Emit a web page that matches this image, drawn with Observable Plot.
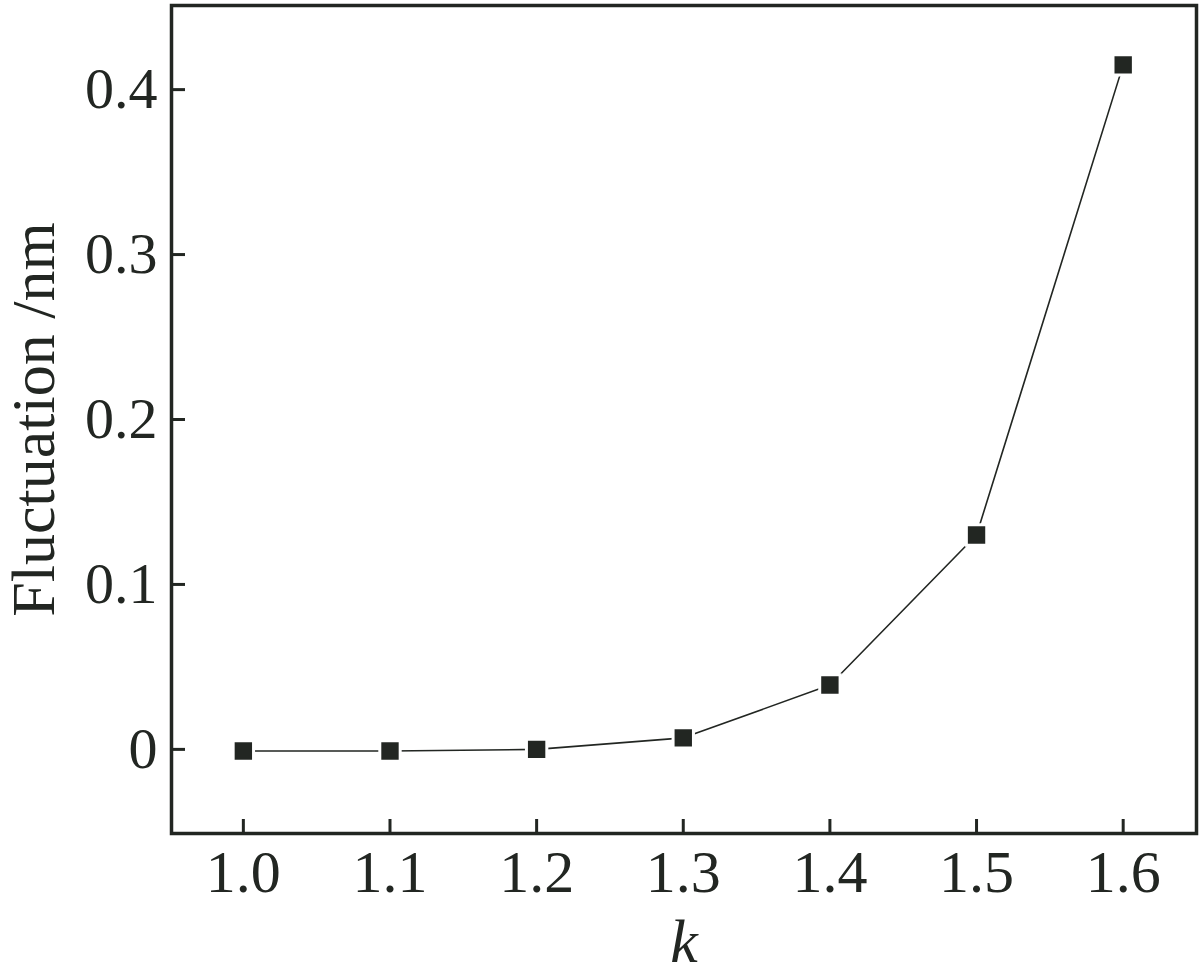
<!DOCTYPE html>
<html>
<head>
<meta charset="utf-8">
<script src="https://cdn.jsdelivr.net/npm/d3@7"></script>
<script src="https://cdn.jsdelivr.net/npm/@observablehq/plot@0.6"></script>
<style>
  html, body { margin: 0; padding: 0; background: #fff; }
  g[aria-label="x-axis label"] text { font-style: italic; }
</style>
</head>
<body>
<div id="chart"></div>
<script>
const kValues = [1.0, 1.1, 1.2, 1.3, 1.4, 1.5, 1.6];
const fluctuation = [-0.001, -0.001, 0.0, 0.007, 0.039, 0.130, 0.415];
const xTicks = [1.0, 1.1, 1.2, 1.3, 1.4, 1.5, 1.6];
const yTicks = [0, 0.1, 0.2, 0.3, 0.4];

const data = kValues.map((k, i) => ({k, f: fluctuation[i]}));
const ink = "#222622";

const chart = Plot.plot({
  width: 1200,
  height: 976,
  marginLeft: 171,
  marginRight: 4,
  marginTop: 5,
  marginBottom: 143,
  style: {fontFamily: "'Liberation Serif', 'DejaVu Serif', serif", fontSize: "58px", color: ink, background: "#fff"},
  x: {domain: [0.951, 1.65]},
  y: {domain: [-0.051, 0.451]},
  marks: [
    Plot.axisX({ticks: xTicks, tickFormat: d3.format(".1f"), tickSize: -14, tickPadding: 30, strokeWidth: 3,
      label: "k", labelAnchor: "center", labelArrow: "none", labelOffset: 128, fontSize: 60}),
    Plot.axisY({ticks: yTicks, tickFormat: d => d === 0 ? "0" : d3.format(".1f")(d), tickSize: -14, tickPadding: 28, strokeWidth: 3,
      label: "Fluctuation /nm", labelAnchor: "center", labelArrow: "none", labelOffset: 162, fontSize: 58}),
    Plot.line(data, {x: "k", y: "f", stroke: ink, strokeWidth: 1.6}),
    Plot.dot(data, {x: "k", y: "f", symbol: "square", r: 11.5, fill: ink, stroke: "#fff", strokeWidth: 3}),
    Plot.frame({stroke: ink, strokeWidth: 3.5})
  ]
});
document.getElementById("chart").appendChild(chart);
// axis labels slightly larger than tick labels
chart.querySelectorAll('g[aria-label="x-axis label"] text, g[aria-label="y-axis label"] text')
  .forEach(t => t.setAttribute("font-size", "62"));
</script>
</body>
</html>
